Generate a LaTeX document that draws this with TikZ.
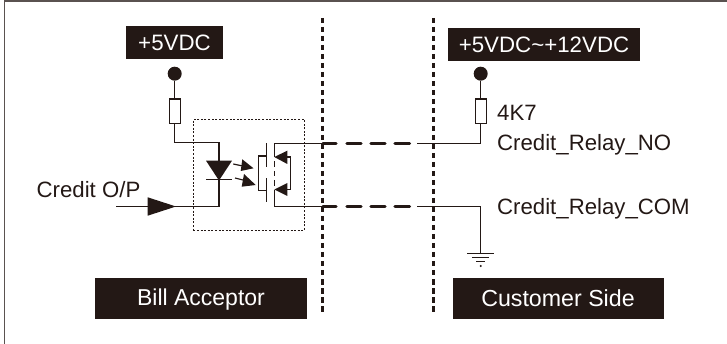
\documentclass[tikz,border=0pt]{standalone}
\usepackage{fontspec}
\setmainfont{Liberation Sans}
\definecolor{ink}{HTML}{231815}
\tikzset{
  x=1pt,y=-1pt,
  blackbox/.style={fill=ink,draw=none,text=white,inner sep=0pt,text height=15.8pt,text depth=0pt,font=\fontsize{22.3}{24}\selectfont,anchor=center},
  lbl/.style={text=ink,inner sep=0pt,anchor=base west,font=\fontsize{22.2}{24}\selectfont},
  res/.style={draw=ink,fill=white,line width=1.3pt,minimum width=11pt,minimum height=24.5pt,inner sep=0pt},
  dotnode/.style={circle,fill=ink,draw=none,minimum size=14pt,inner sep=0pt},
  wire/.style={draw=ink,line width=1.2pt},
  heavy/.style={draw=ink,line width=3.2pt,line cap=round},
  barrier/.style={draw=ink,line width=3pt,dash pattern=on 5.5pt off 3.5pt},
  solid ink/.style={fill=ink,draw=none},
  opto/.style={draw=ink,line width=1pt,dash pattern=on 2pt off 1.6pt},
}
\begin{document}
\begin{tikzpicture}
\useasboundingbox (0,0) rectangle (727,344);
% page edge
\coordinate (edgeA) at (727,1.2);
\coordinate (edgeB) at (4.5,1.2);
\coordinate (edgeC) at (4.5,344);
\draw[draw=ink!75,line width=1.6pt] (edgeA) -- (edgeB) -- (edgeC);

% barriers
\coordinate (barLt) at (322.3,18);
\coordinate (barLb) at (322.3,312);
\coordinate (barRt) at (433.3,18);
\coordinate (barRb) at (433.3,312);
\draw[barrier] (barLt) -- (barLb);
\draw[barrier] (barRt) -- (barRb);

% labelled boxes
\node[blackbox,minimum width=96.5pt,minimum height=33pt] (supL) at (174.5,42.8) {+5VDC};
\node[blackbox,minimum width=191.5pt,minimum height=33pt] (supR) at (544,44.5) {+5VDC\textasciitilde+12VDC};
\node[blackbox,font=\fontsize{23}{24}\selectfont,text height=12.4pt,minimum width=211.5pt,minimum height=41pt] (bill) at (201,298.8) {Bill Acceptor};
\node[blackbox,font=\fontsize{23.2}{24}\selectfont,minimum width=211pt,minimum height=41pt] (cust) at (558,298.8) {Customer Side};

% supply dots and resistors
\node[dotnode] (dotL) at (174.7,73.7) {};
\node[dotnode] (dotR) at (480.7,73.7) {};
\node[res] (resL) at (174.7,111.2) {};
\node[res] (resR) at (480.7,111.2) {};
\draw[wire] (dotL) -- (resL);
\draw[wire] (dotR) -- (resR);

% opto package
\node[opto,minimum width=111pt,minimum height=111.4pt,inner sep=0pt] (pkg) at (248.8,175) {};

% LED
\coordinate (ledT) at (219,160.7);
\coordinate (ledB) at (219,180);
\coordinate (wireA) at (174.7,142.7);
\coordinate (wireB) at (219,142.7);
\coordinate (wireC) at (219,206.5);
\coordinate (inEnd) at (116,206.5);
\draw[wire] (resL) -- (wireA) -- (wireB) -- (ledT);
\draw[wire] (ledB) -- (wireC) -- (inEnd);
\fill[solid ink] (206,160.7) -- (232,160.7) -- (219,180.5) -- cycle;
\draw[wire] (206,179.7) -- (232,179.7);
\fill[solid ink] (147.7,197.3) -- (176,206.5) -- (147.7,215.7) -- cycle;

% light arrows
\draw[wire] (233.3,164) -- (245,166.5);
\fill[solid ink] (242.3,159.3) -- (253.5,168.3) -- (240.7,171) -- cycle;
\draw[wire] (235,178) -- (247,181);
\fill[solid ink] (244,174) -- (255.7,185) -- (241.7,186.7) -- cycle;

% phototransistors
\draw[wire] (266.7,143.3) -- (266.7,166.7);
\draw[wire] (266.7,178.3) -- (266.7,202.3);
\draw[wire] (266.7,156) -- (258.3,156) -- (258.3,190.5) -- (266.7,190.5);
\draw[wire,line width=1.1pt] (274.3,143.2) -- (274.3,157);
\draw[wire,line width=1.1pt] (274.3,161) -- (274.3,167);
\draw[wire,line width=1.1pt] (274.3,171) -- (274.3,176);
\draw[wire,line width=1.1pt] (274.3,180) -- (274.3,186);
\draw[wire,line width=1.1pt] (274.3,190) -- (274.3,206.3);
\fill[solid ink] (274.3,157) -- (287.3,150.7) -- (287.3,164) -- cycle;
\fill[solid ink] (274.3,189.5) -- (287.3,183) -- (287.3,196) -- cycle;
\draw[wire] (287,157) -- (290.3,157) -- (290.3,189.5) -- (287,189.5);

% isolated links
\coordinate (nI) at (274.3,143.2);
\coordinate (nA) at (322,143.2);
\coordinate (nB) at (417,143.2);
\coordinate (nC) at (480.7,143.2);
\coordinate (cI) at (274.3,206.3);
\coordinate (cA) at (322,206.3);
\coordinate (cB) at (417,206.3);
\coordinate (cC) at (480.7,206.3);
\coordinate (gnd) at (480.7,253.5);
\draw[wire] (nI) -- (nA);
\draw[wire] (cI) -- (cA);
\draw[wire] (nB) -- (nC) -- (resR);
\draw[wire] (cB) -- (cC) -- (gnd);
\foreach \y in {143.2,206.3}{
  \draw[heavy] (323,\y) -- (336,\y);
  \draw[heavy] (347,\y) -- (361,\y);
  \draw[heavy] (371,\y) -- (385,\y);
  \draw[heavy] (395,\y) -- (409.5,\y);
}

% ground
\draw[wire] (467.3,253.5) -- (493.7,253.5);
\draw[wire] (472,257.7) -- (489,257.7);
\draw[wire] (476,261.7) -- (485,261.7);
\fill[solid ink] (480.7,266) circle (1.1);

% labels
\node[lbl] (t4k) at (497,121) {4K7};
\node[lbl] (tno) at (497,151) {Credit\_Relay\_NO};
\node[lbl] (tcom) at (497,214.5) {Credit\_Relay\_COM};
\node[lbl] (tcp) at (36.5,197.3) {Credit O/P};
\end{tikzpicture}
\end{document}
